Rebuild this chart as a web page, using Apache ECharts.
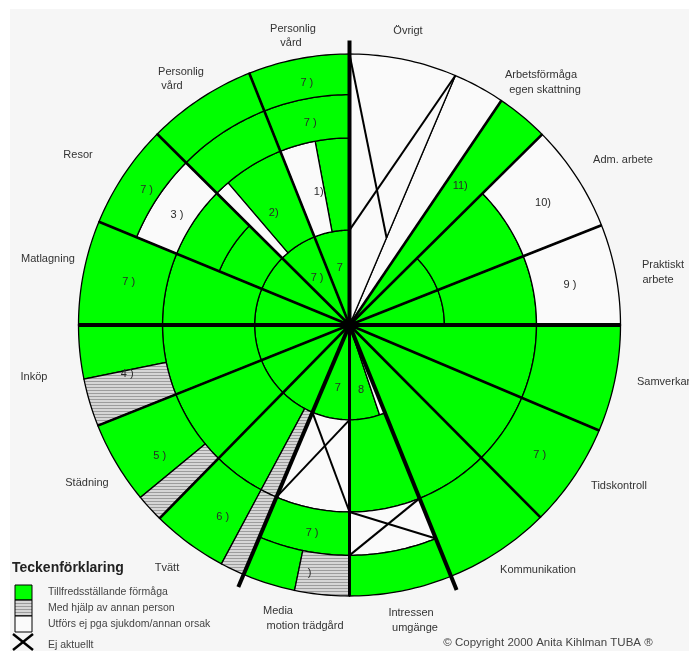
<!DOCTYPE html>
<html><head><meta charset="utf-8">
<script src="https://cdn.jsdelivr.net/npm/echarts/dist/echarts.min.js"></script>
<style>html,body{margin:0;padding:0;background:#fff}#c{width:689px;height:651px}</style>
</head><body><div id="c"></div>
<script>
// ---- DATA ----
// Sector (activity) names, counter-clockwise from east
const categories = ['Praktiskt arbete','Adm. arbete','Arbetsförmåga egen skattning','Övrigt','Personlig vård','Personlig vård','Resor','Matlagning','Inköp','Städning','Tvätt','Media motion trädgård','Intressen umgänge','Kommunikation','Tidskontroll','Samverkan'];
// Sector start angles (degrees, counter-clockwise from east)
const sectorStart = [0,21.6,44.7,55.9,90,111.7,135.2,157.6,180,201.8,225.5,247,270,292,314.8,337.1];
// Main divider angles and their radial extent (radius scale 0-100 = wheel edge)
const majorAngles = [0,90,180,247,270,292];
const majorEnds = [100,105,100,105,100,105.5];

// Cells: angle from/to, radius from/to, status
// G = Tillfredsställande förmåga, H = Med hjälp av annan person, W = Utförs ej
const cellA0 = [0,0,0, 21.6,21.6,21.6, 44.7, 55.9,67, 90,90,100.6,90,90, 111.7,111.7,130.5,111.7,111.7, 135.2,135.2,135.2,135.2,135.2, 157.6,157.6,157.6, 180,180,180,191.5, 201.8,201.8,201.8,219.5, 225.5,225.5,241.8,225.5,241.8, 247,247,247,247,258.3, 270,288.5,270,270,270, 292,292, 314.8,314.8, 337.1,337.1];
const cellA1 = [21.6,21.6,21.6, 44.7,44.7,44.7, 55.9, 67,90, 111.7,100.6,111.7,111.7,111.7, 135.2,130.5,135.2,135.2,135.2, 157.6,157.6,157.6,157.6,157.6, 180,180,180, 201.8,201.8,191.5,201.8, 225.5,225.5,219.5,225.5, 247,241.8,247,241.8,247, 270,270,270,258.3,270, 288.5,292,292,292,292, 314.8,314.8, 337.1,337.1, 360,360];
const cellR0 = [0,35,69, 0,35,69, 0, 0,0, 0,35,35,69,85, 0,35,35,69,85, 0,35,52,69,85, 0,35,69, 0,35,69,69, 0,35,69,69, 0,35,35,69,69, 0,35,69,85,85, 0,0,35,69,85, 0,69, 0,69, 0,69];
const cellR1 = [35,69,100, 35,69,100, 100, 100,100, 35,69,69,85,100, 35,69,69,85,100, 35,52,69,85,100, 35,69,100, 35,69,100,100, 35,69,100,100, 35,69,69,100,100, 35,69,85,100,100, 35,35,69,85,100, 69,100, 69,100, 69,100];
const cellStatus = ['G','G','W', 'G','G','W', 'G', 'W','W', 'G','G','W','G','G', 'G','G','W','G','G', 'G','G','G','W','G', 'G','G','G', 'G','G','G','H', 'G','G','G','H', 'G','G','H','G','H', 'G','W','G','G','H', 'G','W','G','W','G', 'G','G', 'G','G', 'G','G'];

// Ej aktuellt (X) cells
const xA0 = [67,247,270];
const xA1 = [90,270,292];
const xR0 = [35,35,69];
const xR1 = [100,69,85];

// Notes written in cells
const noteText = ['9 )','10)','11)','7','7 )','1)','2)','7 )','7 )','3 )','7 )','7 )','4 )','5 )','6 )','7 )',' )','7','8','7 )'];
const noteAngle = [10.3,32.2,51.5,99.5,124.7,103,124,100,101,147.5,146.3,169,192.5,214.5,236.6,259.8,260.5,259.5,280,325.7];
const noteRadius = [82.7,84.4,65.6,21.5,21,50.5,50,90.7,76,75.5,90,83,84,85,85,78,92.9,23.5,24.3,85];

// Outer labels
const outerLabels = ['Personlig','vård','Personlig','vård','Resor','Matlagning','Inköp','Städning','Tvätt','Media','motion trädgård','Intressen','umgänge','Kommunikation','Tidskontroll','Samverkan','Praktiskt','arbete','Adm. arbete','Arbetsförmåga','egen skattning','Övrigt'];
const legendTitle = 'Teckenförklaring';
const legendItems = ['Tillfredsställande förmåga','Med hjälp av annan person','Utförs ej pga sjukdom/annan orsak','Ej aktuellt'];
const copyright = '© Copyright 2000 Anita Kihlman TUBA ®';

// ---- LAYOUT / STYLE ----
const outerLabelPos = [[293,29,'center'],[291,43,'center'],[181,72,'center'],[172,86,'center'],[78,155,'center'],[48,259,'center'],[34,377,'center'],[87,483,'center'],[167,568,'center'],[263,611,'left'],[305,626,'center'],[411,613,'center'],[415,628,'center'],[538,570,'center'],[619,486,'center'],[637,382,'left'],[663,265,'center'],[658,280,'center'],[623,160,'center'],[541,75,'center'],[545,90,'center'],[408,31,'center']];
const FONT = '"Liberation Sans", Arial, sans-serif';
const GREEN = '#00ff00';
const WHITE = '#fafafa';
const pc = document.createElement('canvas'); pc.width = 4; pc.height = 3;
const pctx = pc.getContext('2d');
pctx.fillStyle = '#d6d6d6'; pctx.fillRect(0,0,4,3);
pctx.fillStyle = '#9c9c9c'; pctx.fillRect(0,0,4,1);
const HATCH = {image: pc, repeat: 'repeat'};
const fills = {G: GREEN, H: HATCH, W: WHITE};

function arcPts(api, r, a0, a1) {
  const n = Math.max(2, Math.ceil(Math.abs(a1 - a0)) + 1);
  const pts = [];
  for (let k = 0; k < n; k++) pts.push(api.coord([r, a0 + (a1 - a0) * k / (n - 1)]));
  return pts;
}

const chart = echarts.init(document.getElementById('c'), null, {renderer: 'canvas'});

const legendGraphics = [
  {type:'text', x:12, y:568, style:{text: legendTitle, font:'bold 14px ' + FONT, fill:'#222', verticalAlign:'middle'}},
  {type:'rect', shape:{x:15,y:585,width:17,height:15}, style:{fill:GREEN, stroke:'#000', lineWidth:1}},
  {type:'rect', shape:{x:15,y:600,width:17,height:16}, style:{fill:HATCH, stroke:'#000', lineWidth:1}},
  {type:'rect', shape:{x:15,y:616,width:17,height:16}, style:{fill:WHITE, stroke:'#000', lineWidth:1}},
  {type:'line', shape:{x1:13,y1:634,x2:33,y2:650}, style:{stroke:'#000', lineWidth:2.5}},
  {type:'line', shape:{x1:33,y1:634,x2:13,y2:650}, style:{stroke:'#000', lineWidth:2.5}}
];
const legendY = [592,608,624,645];
legendItems.forEach((t, i) => legendGraphics.push({type:'text', x:48, y:legendY[i], style:{text:t, font:'10.5px ' + FONT, fill:'#444', verticalAlign:'middle'}}));

const labelGraphics = outerLabels.map((t, i) => ({type:'text', x: outerLabelPos[i][0], y: outerLabelPos[i][1], style:{text:t, font:'11px ' + FONT, fill:'#333', align: outerLabelPos[i][2], verticalAlign:'middle'}}));

const sectorLineIdx = sectorStart.map((a, i) => i).filter(i => majorAngles.indexOf(sectorStart[i]) < 0);

chart.setOption({
  animation: false,
  backgroundColor: '#fff',
  graphic: [
    {type:'rect', z:-10, shape:{x:10,y:9,width:679,height:642}, style:{fill:'#f6f6f6'}, silent:true}
  ].concat(legendGraphics, labelGraphics, [
    {type:'text', x:548, y:643, style:{text: copyright, font:'11.5px ' + FONT, fill:'#444', align:'center', verticalAlign:'middle'}}
  ]),
  polar: {center: [349.5, 325], radius: 271 * 1.06},
  angleAxis: {type:'value', min:0, max:360, startAngle:0, clockwise:false,
    axisLine:{show:false}, axisTick:{show:false}, axisLabel:{show:false}, splitLine:{show:false}},
  radiusAxis: {type:'value', min:0, max:106,
    axisLine:{show:false}, axisTick:{show:false}, axisLabel:{show:false}, splitLine:{show:false}},
  series: [
    { // cells
      type:'custom', coordinateSystem:'polar', clip:false, z:2,
      data: cellA0.map((_, i) => [cellR0[i], cellA0[i], cellR1[i], cellA1[i]]),
      renderItem: (params, api) => {
        const i = params.dataIndex;
        const r0 = api.value(0), a0 = api.value(1), r1 = api.value(2), a1 = api.value(3);
        let pts = arcPts(api, r1, a0, a1);
        if (r0 > 0) pts = pts.concat(arcPts(api, r0, a1, a0)); else pts.push(api.coord([0, a0]));
        return {type:'polygon', shape:{points:pts}, style:{fill: fills[cellStatus[i]], stroke:'#000', lineWidth:1.3}};
      }
    },
    { // X (Ej aktuellt)
      type:'custom', coordinateSystem:'polar', clip:false, z:3,
      data: xA0.map((_, i) => [xR0[i], xA0[i], xR1[i], xA1[i]]),
      renderItem: (params, api) => {
        const r0 = api.value(0), a0 = api.value(1), r1 = api.value(2), a1 = api.value(3);
        const p1 = api.coord([r1, a0]), p2 = api.coord([r0, a1]);
        const p3 = api.coord([r1, a1]), p4 = api.coord([r0, a0]);
        return {type:'group', children:[
          {type:'line', shape:{x1:p1[0],y1:p1[1],x2:p2[0],y2:p2[1]}, style:{stroke:'#000', lineWidth:2}},
          {type:'line', shape:{x1:p3[0],y1:p3[1],x2:p4[0],y2:p4[1]}, style:{stroke:'#000', lineWidth:2}}
        ]};
      }
    },
    { // sector dividers
      type:'custom', coordinateSystem:'polar', clip:false, z:4,
      data: sectorLineIdx.map(i => [100, sectorStart[i]]),
      renderItem: (params, api) => {
        const c = api.coord([0, api.value(1)]), p = api.coord([api.value(0), api.value(1)]);
        return {type:'line', shape:{x1:c[0],y1:c[1],x2:p[0],y2:p[1]}, style:{stroke:'#000', lineWidth:2.6}};
      }
    },
    { // main dividers
      type:'custom', coordinateSystem:'polar', clip:false, z:5,
      data: majorAngles.map((a, i) => [majorEnds[i], a]),
      renderItem: (params, api) => {
        const c = api.coord([0, api.value(1)]), p = api.coord([api.value(0), api.value(1)]);
        const w = api.value(1) === 270 ? 3 : 4;
        return {type:'line', shape:{x1:c[0],y1:c[1],x2:p[0],y2:p[1]}, style:{stroke:'#000', lineWidth:w}};
      }
    },
    { // notes
      type:'custom', coordinateSystem:'polar', clip:false, z:6,
      data: noteAngle.map((a, i) => [noteRadius[i], a]),
      renderItem: (params, api) => {
        const p = api.coord([api.value(0), api.value(1)]);
        return {type:'text', x:p[0], y:p[1], style:{text: noteText[params.dataIndex], font:'11px ' + FONT, fill:'#2a2a2a', align:'center', verticalAlign:'middle'}};
      }
    },
    { // hub
      type:'scatter', coordinateSystem:'polar', z:7, symbol:'circle', symbolSize:15,
      itemStyle:{color:'#000'}, data:[[0,0]], silent:true
    }
  ]
});
</script>
</body></html>
